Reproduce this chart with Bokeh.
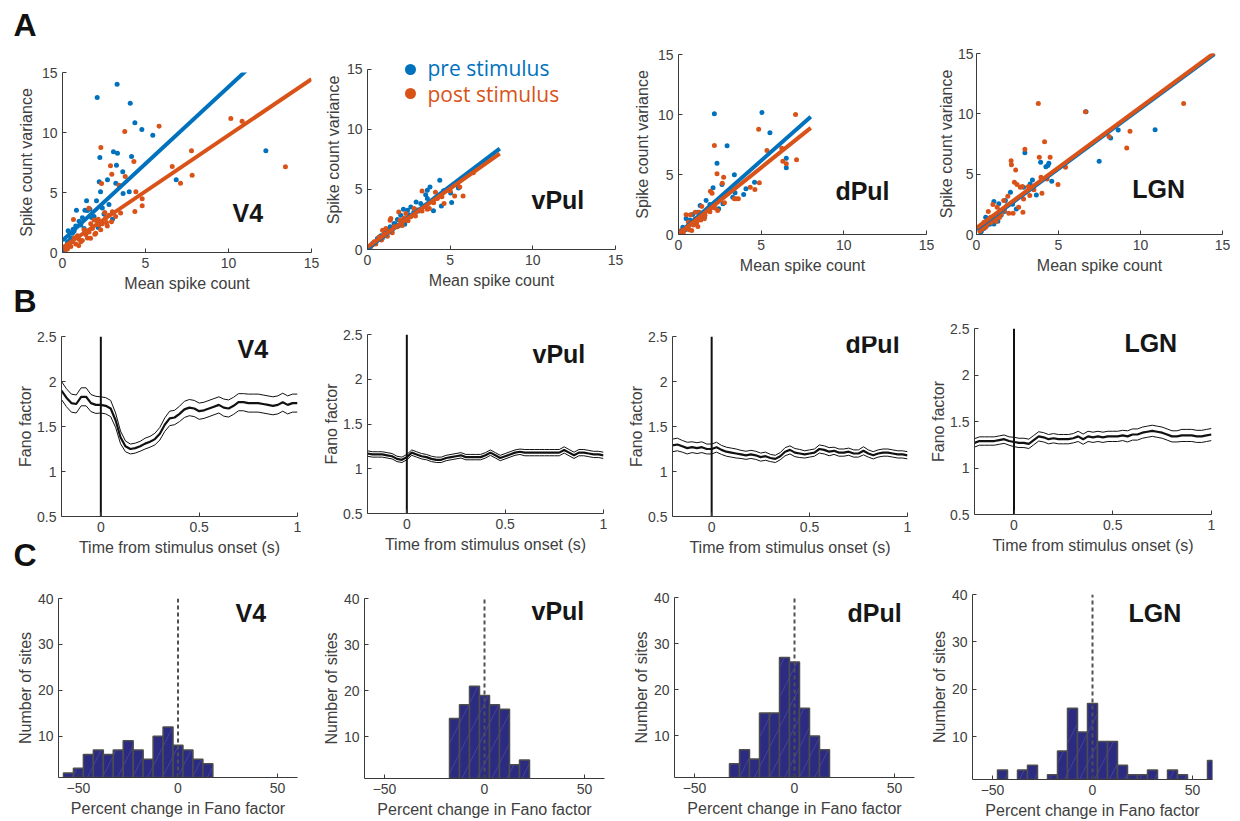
import numpy as np
from bokeh.plotting import figure
from bokeh.models import Range1d, FixedTicker, Label, NumeralTickFormatter, GridBox
from bokeh.core.properties import value
from bokeh.layouts import row, column
from bokeh.embed import file_html
from bokeh.resources import INLINE

# ---------------------------------------------------------------- styling
BLUE = "#0072BD"
ORANGE = "#D95319"
NAVY = "#2c2b82"
AX = "#3a3a3a"
TXT = "#404040"
FONT = "Liberation Sans"

areas = ["V4", "vPul", "dPul", "LGN"]
legend_labels = ["pre stimulus", "post stimulus"]
panel_letters = ["A", "B", "C"]

# ---------------------------------------------------------------- A: mean vs variance of spike counts
v4_pre = [(2.09, 12.92), (3.29, 14.03), (4.08, 12.44), (4.36, 10.81), (4.78, 10.25),
          (5.44, 9.78), (2.25, 7.92), (3.07, 8.39), (3.31, 8.28), (3.25, 7.28),
          (4.16, 8.0), (3.63, 6.72), (2.21, 5.89), (2.29, 5.06), (2.71, 6.06),
          (3.21, 5.78), (3.65, 4.92), (4.02, 5.06), (1.45, 4.31), (2.05, 4.31),
          (6.85, 6.06), (12.25, 8.47), (3.05, 3.33), (3.01, 2.78), (1.35, 3.53),
          (0.84, 3.53), (0.34, 1.81), (0.64, 1.94), (2.15, 2.08), (1.75, 2.92),
          (0.2, 0.5), (0.3, 0.9), (0.5, 1.2), (0.6, 1.6), (0.8, 2.2),
          (1.0, 2.6), (1.2, 2.9), (1.5, 3.5), (0.4, 0.7), (0.7, 1.8),
          (1.1, 2.3), (2.5, 3.2), (1.9, 3.0), (0.9, 1.3), (2.8, 4.0),
          (0.15, 0.2), (0.45, 1.0), (1.3, 2.0), (1.65, 3.6), (2.4, 3.7)]
v4_post = [(2.31, 8.75), (3.75, 10.08), (5.82, 10.53), (10.14, 11.17), (10.82, 10.94),
           (13.43, 7.14), (7.77, 8.47), (7.81, 6.44), (7.11, 5.78), (6.61, 7.17),
           (2.89, 7.22), (2.97, 6.53), (3.78, 6.33), (4.30, 7.58), (3.41, 5.61),
           (4.36, 3.42), (4.80, 3.89), (4.80, 4.47), (4.42, 5.06), (2.35, 5.75),
           (0.66, 2.75), (1.59, 3.69), (2.15, 2.78), (1.95, 1.53), (1.69, 1.19),
           (0.98, 0.56), (2.55, 3.33), (2.65, 2.5), (2.95, 2.56), (0.3, 0.3),
           (0.5, 0.5), (0.6, 0.9), (0.8, 0.7), (1.0, 1.1), (1.2, 1.0),
           (1.4, 1.5), (1.6, 1.7), (1.8, 2.0), (2.0, 1.6), (2.2, 2.3),
           (2.4, 2.4), (2.6, 2.9), (2.8, 3.1), (3.0, 3.4), (1.5, 1.2),
           (1.1, 0.9), (0.9, 1.4), (0.4, 0.6), (0.7, 1.2), (2.1, 2.6),
           (1.3, 1.9), (2.3, 1.9), (1.7, 2.4), (3.2, 3.0), (3.5, 3.3),
           (0.2, 0.25), (1.9, 2.7), (2.7, 2.2)]

vpul_pre = [(4.37, 5.77), (3.78, 5.21), (3.62, 4.93), (3.52, 4.57), (5.03, 4.71),
            (4.47, 3.63), (3.99, 3.22), (5.09, 3.91), (5.5, 5.13), (2.94, 3.96),
            (2.42, 3.27), (2.17, 3.35), (1.81, 2.49), (1.37, 1.89), (1.01, 1.33),
            (0.6, 0.91), (0.3, 0.5), (2.62, 3.55), (1.61, 2.16), (1.25, 1.61),
            (3.22, 3.83), (5.44, 5.35), (3.62, 4.24), (2.01, 2.86), (0.81, 1.14),
            (2.38, 2.58), (0.45, 0.6), (0.9, 0.95), (1.15, 1.4), (1.5, 1.7),
            (1.7, 2.1), (2.1, 2.3), (2.5, 2.9), (2.8, 3.1), (3.1, 3.2),
            (3.4, 3.6), (4.1, 4.3), (4.6, 4.9), (0.2, 0.25), (1.9, 2.0),
            (2.25, 2.1), (3.0, 3.3)]
vpul_post = [(3.30, 4.88), (4.11, 4.77), (3.62, 3.35), (5.27, 4.46), (5.78, 4.46),
             (5.58, 5.21), (6.4, 6.4), (3.74, 3.41), (3.06, 3.27), (1.89, 3.13),
             (1.37, 2.44), (1.11, 1.75), (1.97, 2.44), (1.61, 1.89), (2.32, 2.99),
             (2.62, 2.72), (0.70, 1.05), (0.4, 0.64), (1.41, 2.58), (2.82, 3.41),
             (4.63, 3.83), (4.23, 4.24), (0.2, 0.28), (0.91, 1.61), (0.5, 0.45),
             (0.85, 0.8), (1.2, 1.1), (1.5, 1.4), (1.8, 1.9), (2.1, 2.0),
             (2.45, 2.4), (2.9, 2.8), (3.3, 3.2), (3.5, 3.6), (4.0, 3.9),
             (4.5, 4.4), (5.0, 4.9), (0.3, 0.4), (1.0, 1.25), (2.2, 2.6)]

dpul_pre = [(2.17, 10.06), (5.05, 10.17), (5.53, 8.47), (2.94, 7.39), (2.33, 5.94),
            (3.38, 4.97), (6.52, 6.36), (6.52, 5.56), (2.63, 4.17), (2.09, 3.89),
            (3.94, 3.33), (4.08, 3.81), (4.60, 4.36), (3.42, 3.47), (3.28, 3.11),
            (1.67, 2.83), (1.31, 2.42), (2.43, 2.14), (0.86, 1.67), (0.46, 1.31),
            (0.76, 0.89), (1.57, 1.44), (1.17, 1.86), (0.26, 0.61), (2.69, 2.56),
            (0.4, 0.4), (0.6, 0.7), (0.9, 1.1), (1.1, 1.3), (1.4, 1.7),
            (1.8, 2.0), (2.0, 2.3), (2.2, 2.6), (0.15, 0.2), (0.55, 0.5),
            (1.0, 0.9), (1.25, 1.5), (0.7, 1.2), (1.9, 2.5)]
dpul_post = [(2.17, 7.42), (4.85, 8.78), (7.08, 10.0), (7.14, 6.22), (2.33, 5.06),
             (2.73, 4.78), (4.89, 4.31), (4.62, 3.75), (4.34, 3.94), (3.48, 2.97),
             (3.38, 2.97), (3.62, 2.97), (6.25, 7.19), (6.31, 6.11), (6.52, 5.89),
             (5.35, 7.0), (1.93, 3.61), (2.03, 3.44), (2.65, 4.28), (1.41, 2.33),
             (1.77, 2.11), (1.27, 1.86), (0.46, 1.64), (0.72, 1.64), (1.01, 1.86),
             (0.6, 1.03), (1.17, 0.67), (0.8, 0.33), (2.37, 2.0), (1.57, 1.31),
             (2.07, 2.28), (2.78, 2.64), (0.16, 0.33), (0.3, 0.2), (0.5, 0.5),
             (0.9, 0.8), (1.1, 1.0), (1.35, 1.2), (1.6, 1.6), (1.9, 1.9),
             (2.2, 2.2), (0.65, 0.4), (1.0, 1.3)]

lgn_pre = [(6.68, 10.17), (8.64, 8.66), (10.89, 8.68), (8.18, 8.0), (7.48, 6.07),
           (2.95, 6.78), (3.91, 5.98), (4.41, 5.90), (4.23, 5.62), (4.35, 5.71),
           (4.59, 4.41), (3.41, 4.52), (3.27, 4.19), (3.65, 3.28), (2.07, 3.50),
           (1.76, 2.81), (1.06, 2.73), (1.36, 2.54), (2.43, 2.12), (0.56, 1.43),
           (0.76, 1.02), (1.06, 0.88), (0.36, 0.61), (1.46, 1.99), (1.86, 2.40),
           (2.87, 3.92), (0.3, 0.3), (0.45, 0.5), (0.6, 0.7), (0.8, 0.85),
           (1.0, 1.2), (1.2, 1.5), (1.5, 1.6), (1.7, 1.9), (0.25, 0.2),
           (0.9, 1.3), (1.3, 1.1), (2.2, 2.5)]
lgn_post = [(3.77, 10.86), (6.64, 10.17), (12.63, 10.86), (9.36, 8.55), (9.16, 7.17),
            (8.08, 8.13), (4.15, 7.69), (2.95, 7.06), (3.83, 6.40), (4.49, 6.40),
            (2.11, 6.12), (2.13, 5.79), (2.39, 5.35), (2.31, 4.33), (2.47, 4.14),
            (2.79, 3.97), (3.17, 3.97), (4.97, 4.14), (3.93, 4.74), (5.43, 5.57),
            (3.99, 3.42), (3.25, 3.23), (2.67, 3.92), (2.83, 1.85), (2.23, 1.76),
            (1.97, 1.76), (1.91, 3.17), (1.00, 2.48), (0.72, 1.90), (2.87, 2.95),
            (2.57, 2.26), (1.66, 2.81), (1.26, 2.26), (0.46, 1.02), (0.26, 0.61),
            (0.86, 1.43), (1.46, 1.85), (0.66, 0.88), (0.35, 0.45), (0.55, 0.6),
            (0.9, 1.0), (1.1, 1.3), (1.3, 1.5), (1.5, 1.65), (1.7, 2.0),
            (0.2, 0.3), (1.2, 1.1), (1.4, 1.4), (4.3, 4.6), (3.5, 3.7)]

# linear fits (intercept, slope) and the mean-count span each fit line covers
fit_pre = [(1.0, 1.28), (0.08, 1.04), (0.06, 1.22), (0.45, 1.0)]
fit_post = [(0.42, 0.935), (0.22, 0.97), (0.05, 1.105), (0.55, 1.0)]
fit_span = [(0, 15), (0, 8), (0, 8), (0, 14.5)]

# ---------------------------------------------------------------- B: Fano factor time course (mean and s.e.m.)
t_fano = np.linspace(-0.2, 1.0, 49)
v4_fano = [1.90, 1.82, 1.76, 1.75, 1.83, 1.83, 1.76, 1.74, 1.74, 1.73,
           1.70, 1.57, 1.38, 1.28, 1.25, 1.26, 1.28, 1.31, 1.33, 1.36,
           1.42, 1.52, 1.59, 1.60, 1.64, 1.69, 1.71, 1.70, 1.67, 1.68,
           1.70, 1.72, 1.74, 1.71, 1.70, 1.73, 1.77, 1.77, 1.76, 1.76,
           1.76, 1.75, 1.74, 1.73, 1.74, 1.77, 1.74, 1.76, 1.76]
v4_sem = [0.10, 0.10, 0.10, 0.10, 0.10, 0.10, 0.095, 0.095, 0.09, 0.09,
          0.09, 0.08, 0.07, 0.06, 0.055, 0.055, 0.055, 0.06, 0.06, 0.065,
          0.07, 0.075, 0.08, 0.08, 0.085, 0.09, 0.09, 0.09, 0.09, 0.09,
          0.09, 0.09, 0.09, 0.095, 0.095, 0.095, 0.095, 0.095, 0.10, 0.10,
          0.10, 0.10, 0.10, 0.10, 0.10, 0.10, 0.10, 0.10, 0.10]
vpul_fano = [1.17, 1.16, 1.16, 1.16, 1.15, 1.14, 1.11, 1.10, 1.13, 1.18,
             1.16, 1.14, 1.13, 1.11, 1.10, 1.10, 1.12, 1.13, 1.14, 1.15,
             1.13, 1.13, 1.13, 1.13, 1.15, 1.18, 1.15, 1.12, 1.14, 1.16,
             1.18, 1.19, 1.18, 1.18, 1.18, 1.18, 1.18, 1.18, 1.18, 1.18,
             1.21, 1.18, 1.15, 1.18, 1.18, 1.17, 1.16, 1.16, 1.15]
vpul_sem = [0.03, 0.03, 0.03, 0.03, 0.03, 0.03, 0.03, 0.03, 0.03, 0.03,
            0.03, 0.03, 0.03, 0.03, 0.03, 0.03, 0.03, 0.03, 0.03, 0.03,
            0.03, 0.03, 0.03, 0.03, 0.03, 0.03, 0.03, 0.03, 0.03, 0.03,
            0.03, 0.03, 0.035, 0.035, 0.035, 0.035, 0.035, 0.035, 0.035, 0.035,
            0.035, 0.035, 0.035, 0.035, 0.035, 0.035, 0.035, 0.035, 0.035]
dpul_fano = [1.29, 1.30, 1.28, 1.26, 1.27, 1.26, 1.27, 1.25, 1.25, 1.27,
             1.24, 1.22, 1.21, 1.20, 1.19, 1.18, 1.19, 1.18, 1.16, 1.17,
             1.15, 1.14, 1.17, 1.22, 1.24, 1.21, 1.20, 1.19, 1.20, 1.21,
             1.25, 1.24, 1.22, 1.23, 1.21, 1.21, 1.22, 1.20, 1.20, 1.23,
             1.20, 1.18, 1.20, 1.21, 1.21, 1.20, 1.19, 1.19, 1.18]
dpul_sem = [0.07, 0.07, 0.065, 0.065, 0.06, 0.06, 0.06, 0.055, 0.055, 0.055,
            0.05, 0.05, 0.05, 0.05, 0.045, 0.045, 0.045, 0.045, 0.045, 0.045,
            0.04, 0.04, 0.04, 0.045, 0.045, 0.045, 0.045, 0.04, 0.04, 0.04,
            0.045, 0.045, 0.045, 0.04, 0.04, 0.04, 0.04, 0.04, 0.04, 0.045,
            0.04, 0.04, 0.04, 0.04, 0.04, 0.04, 0.04, 0.04, 0.04]
lgn_fano = [1.27, 1.29, 1.29, 1.29, 1.29, 1.30, 1.31, 1.29, 1.28, 1.27,
            1.27, 1.26, 1.30, 1.34, 1.33, 1.31, 1.32, 1.31, 1.31, 1.31,
            1.32, 1.34, 1.31, 1.34, 1.33, 1.34, 1.33, 1.34, 1.34, 1.34,
            1.35, 1.34, 1.36, 1.36, 1.38, 1.39, 1.40, 1.39, 1.38, 1.36,
            1.34, 1.34, 1.35, 1.35, 1.35, 1.34, 1.34, 1.35, 1.36]
lgn_sem = [0.045, 0.045, 0.045, 0.045, 0.045, 0.045, 0.045, 0.045, 0.05, 0.05,
           0.05, 0.05, 0.05, 0.05, 0.05, 0.05, 0.05, 0.05, 0.05, 0.05,
           0.05, 0.055, 0.055, 0.055, 0.055, 0.055, 0.055, 0.055, 0.055, 0.055,
           0.055, 0.06, 0.06, 0.06, 0.06, 0.06, 0.06, 0.06, 0.06, 0.06,
           0.06, 0.06, 0.065, 0.065, 0.065, 0.065, 0.065, 0.065, 0.065]

# ---------------------------------------------------------------- C: percent change in Fano factor per site
bin_width = 5
v4_bins = [-55, -50, -45, -40, -35, -30, -25, -20, -15, -10, -5, 0, 5, 10, 15]
v4_counts = [2, 3, 6, 7, 6, 7, 9, 7, 5, 10, 12, 8, 7, 5, 4]
vpul_bins = [-15, -10, -5, 0, 5, 10, 15, 20]
vpul_counts = [14, 17, 21, 19, 17, 16, 4, 5]
dpul_bins = [-30, -25, -20, -15, -10, -5, 0, 5, 10, 15]
dpul_counts = [4, 7, 5, 15, 15, 27, 26, 16, 10, 7]
lgn_bins = [-45, -35, -30, -20, -15, -10, -5, 0, 5, 10, 15, 20, 25, 30, 40, 45, 60]
lgn_counts = [3, 3, 4, 2, 7, 16, 11, 17, 9, 9, 4, 2, 2, 3, 3, 2, 5]

scatter_data = [(v4_pre, v4_post), (vpul_pre, vpul_post), (dpul_pre, dpul_post), (lgn_pre, lgn_post)]
fano_data = [(v4_fano, v4_sem), (vpul_fano, vpul_sem), (dpul_fano, dpul_sem), (lgn_fano, lgn_sem)]
hist_data = [(v4_bins, v4_counts), (vpul_bins, vpul_counts), (dpul_bins, dpul_counts), (lgn_bins, lgn_counts)]

# ---------------------------------------------------------------- panel geometry: (left, frame_w, right, top, frame_h, bottom)
# the vPul scatter frame reaches higher (y up to 16.58) to hold the legend;
# its y axis line still stops at 15
geo_a = [(62, 249, 9, 72, 180, 68), (47, 248, 9, 50, 199, 71),
         (54, 248, 8, 54, 180, 86), (42, 246, 18, 53, 181, 86)]
ytop_a = [15, 16.583, 15, 15]
geo_b = [(61, 236, 6, 16, 180, 59), (64, 236, 6, 14, 179, 62),
         (63, 235, 6, 16, 180, 59), (61, 237, 29, 8, 186, 61)]
geo_c = [(58, 239, 3, 23, 179, 44), (64, 240, 3, 23, 180, 43),
         (67, 240, 4, 22, 180, 44), (54, 240, 28, 19, 185, 42)]
# y-axis (tick label standoff, axis label standoff) per panel
ystand_a = [(5, 4), (5, 2), (5, 4), (3, 0)]
ystand_b = [(5, 0)] * 4
ystand_c = [(5, 1)] * 4

# area-name label anchor (data coords, left / baseline)
name_pos_a = [(10.24, 3.28), (9.92, 4.12), (9.49, 3.62), (9.50, 3.77)]
name_pos_b = [(0.695, 2.36), (0.639, 2.28), (0.683, 2.415), (0.559, 2.345)]
name_pos_c = [(28.9, 36.8), (23.5, 37.4), (26.5, 36.6), (18.0, 36.1)]


def make_fig(g, ystand, xr, yr, xticks, yticks, xlabel, ylabel):
    l, fw, r, t, fh, b = g
    p = figure(width=l + fw + r, height=t + fh + b, title=None,
               x_range=Range1d(*xr), y_range=Range1d(*yr),
               min_border_left=l, min_border_right=r,
               min_border_top=t, min_border_bottom=b,
               output_backend="svg", toolbar_location=None, tools="")
    p.outline_line_color = None
    p.grid.visible = False
    p.background_fill_color = "white"
    p.border_fill_color = "white"
    for ax in (p.xaxis[0], p.yaxis[0]):
        ax.axis_line_color = AX
        ax.axis_line_width = 1
        ax.major_tick_line_color = AX
        ax.major_tick_in = 4
        ax.major_tick_out = 0
        ax.minor_tick_line_color = None
        ax.major_label_text_font = FONT
        ax.major_label_text_font_size = "14px"
        ax.major_label_text_color = TXT
        ax.major_label_standoff = 5
        ax.axis_label_text_font = FONT
        ax.axis_label_text_font_size = "16px"
        ax.axis_label_text_font_style = "normal"
        ax.axis_label_text_color = TXT
        ax.axis_label_standoff = 4
    p.yaxis.major_label_standoff = ystand[0]
    p.yaxis.axis_label_standoff = ystand[1]
    p.xaxis.ticker = FixedTicker(ticks=xticks)
    p.yaxis.ticker = FixedTicker(ticks=yticks)
    p.xaxis.axis_label = xlabel
    p.yaxis.axis_label = ylabel
    return p


def area_name(p, text, pos):
    p.add_layout(Label(x=pos[0], y=pos[1], text=text, text_font=FONT,
                       text_font_size="25px", text_font_style="bold",
                       text_color="#161616", text_align="left",
                       text_baseline="alphabetic"))


# ---------------------------------------------------------------- row A
row_a = []
for i, name in enumerate(areas):
    p = make_fig(geo_a[i], ystand_a[i], (0, 15), (0, ytop_a[i]), [0, 5, 10, 15],
                 [0, 5, 10, 15], "Mean spike count", "Spike count variance")
    p.yaxis.bounds = (0, 15)
    pre, post = scatter_data[i]
    p.scatter([q[0] for q in pre], [q[1] for q in pre], size=5,
              fill_color=BLUE, line_color=None)
    p.scatter([q[0] for q in post], [q[1] for q in post], size=5,
              fill_color=ORANGE, line_color=None)
    xs = np.array(fit_span[i], dtype=float)
    for (a, s), c in ((fit_pre[i], BLUE), (fit_post[i], ORANGE)):
        p.line(xs, a + s * xs, line_color=c, line_width=4)
    area_name(p, name, name_pos_a[i])
    row_a.append(p)

# legend (marker + coloured text) in the vPul panel
leg = row_a[1]
leg.scatter([2.6, 2.6], [15.0, 13.0], size=11, fill_color=[BLUE, ORANGE], line_color=None)
for y_txt, txt, c in ((15.15, legend_labels[0], BLUE), (12.98, legend_labels[1], ORANGE)):
    leg.add_layout(Label(x=3.63, y=y_txt, text=txt, text_font="Open Sans",
                         text_font_size="21px", text_color=c,
                         text_align="left", text_baseline="alphabetic"))

# ---------------------------------------------------------------- row B
row_b = []
for i, name in enumerate(areas):
    p = make_fig(geo_b[i], ystand_b[i], (-0.2, 1.0), (0.5, 2.5), [0, 0.5, 1],
                 [0.5, 1, 1.5, 2, 2.5], "Time from stimulus onset (s)", "Fano factor")
    p.xaxis.formatter = NumeralTickFormatter(format="0.[0]")
    p.yaxis.formatter = NumeralTickFormatter(format="0.[0]")
    m, s = (np.array(v) for v in fano_data[i])
    p.line(t_fano, m + s, line_color="#111111", line_width=1)
    p.line(t_fano, m - s, line_color="#111111", line_width=1)
    p.line(t_fano, m, line_color="#111111", line_width=2.2)
    p.line([0, 0], [0.5, 2.5], line_color="#111111", line_width=2)
    area_name(p, name, name_pos_b[i])
    row_b.append(p)

# ---------------------------------------------------------------- row C
row_c = []
for i, name in enumerate(areas):
    p = make_fig(geo_c[i], ystand_c[i], (-60, 60), (1, 40), [-50, 0, 50], [10, 20, 30, 40],
                 "Percent change in Fano factor", "Number of sites")
    bins, counts = hist_data[i]
    p.vbar(x=bins, top=counts, bottom=0, width=bin_width,
           fill_color=NAVY, line_color="#4d4d4d", line_width=1.5,
           hatch_pattern="/", hatch_color="white", hatch_alpha=0.18,
           hatch_scale=30, hatch_weight=0.6)
    p.line([0, 0], [1, 40], line_color="#505050", line_width=2, line_dash="4 3")
    area_name(p, name, name_pos_c[i])
    row_c.append(p)

# each panel sits in its own column so that its frame keeps its own offsets
panels = column(row(*[column(p) for p in row_a]),
                row(*[column(p) for p in row_b]),
                row(*[column(p) for p in row_c]))

# transparent page-sized layer on top of the panels that carries the panel letters
page_w, page_h = 1240, 821
letters = figure(width=page_w, height=page_h, x_range=Range1d(0, page_w),
                 y_range=Range1d(page_h, 0), min_border=0, title=None,
                 x_axis_type=None, y_axis_type=None,
                 output_backend="svg", toolbar_location=None, tools="")
letters.grid.visible = False
letters.outline_line_color = None
letters.background_fill_color = None
letters.border_fill_color = None
letters.text(x=[13, 13, 13], y=[24, 300, 554], text=panel_letters,
             text_font=value(FONT), text_font_size="32px", text_font_style="bold",
             text_color="#111111", text_baseline="alphabetic", text_align="left")

page = GridBox(children=[(panels, 0, 0), (letters, 0, 0)], spacing=0)
open("out.html", "w").write(file_html(page, INLINE))
